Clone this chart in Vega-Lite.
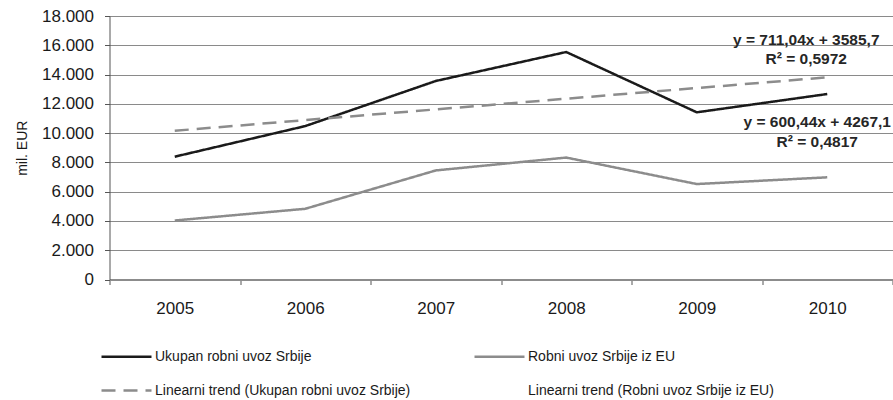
{
  "$schema": "https://vega.github.io/schema/vega-lite/v6.json",
  "width": 783,
  "height": 263.5,
  "autosize": "none",
  "padding": {"left": 109.5, "top": 16, "right": 0.5, "bottom": 120.5},
  "background": "white",
  "config": {
    "view": {"stroke": null},
    "font": "Liberation Sans",
    "text": {"font": "Liberation Sans"}
  },
  "encoding": {
    "x": {
      "field": "year",
      "type": "ordinal",
      "scale": {"type": "band", "paddingInner": 0, "paddingOuter": 0},
      "axis": {
        "title": null,
        "labelAngle": 0,
        "tickBand": "extent",
        "grid": false,
        "domainColor": "#8c8c8c",
        "domainWidth": 2,
        "tickColor": "#555555",
        "tickWidth": 1,
        "tickSize": 5,
        "labelPadding": 16,
        "labelFontSize": 17,
        "labelColor": "#1a1a1a",
        "labelFont": "Liberation Sans"
      }
    },
    "y": {
      "field": "value",
      "type": "quantitative",
      "scale": {"domain": [0, 18000], "nice": false},
      "axis": {
        "title": "mil. EUR",
        "titleFontSize": 14,
        "titleFontWeight": "normal",
        "titleColor": "#1a1a1a",
        "titleFont": "Liberation Sans",
        "titlePadding": 12,
        "values": [0, 2000, 4000, 6000, 8000, 10000, 12000, 14000, 16000, 18000],
        "labelExpr": "replace(format(datum.value, ','), ',', '.')",
        "labelOverlap": false,
        "labelBound": false,
        "labelFlush": false,
        "labelFontSize": 17,
        "labelColor": "#1a1a1a",
        "labelFont": "Liberation Sans",
        "labelPadding": 11,
        "tickSize": 5,
        "tickColor": "#555555",
        "domainColor": "#555555",
        "domainWidth": 1,
        "grid": true,
        "gridColor": "#8a8a8a",
        "gridWidth": 1
      }
    }
  },
  "layer": [
    {
      "data": {
        "values": [
          {"year": "2005", "series": "Ukupan robni uvoz Srbije", "value": 8390},
          {"year": "2006", "series": "Ukupan robni uvoz Srbije", "value": 10480},
          {"year": "2007", "series": "Ukupan robni uvoz Srbije", "value": 13560},
          {"year": "2008", "series": "Ukupan robni uvoz Srbije", "value": 15540},
          {"year": "2009", "series": "Ukupan robni uvoz Srbije", "value": 11420},
          {"year": "2010", "series": "Ukupan robni uvoz Srbije", "value": 12670},
          {"year": "2005", "series": "Robni uvoz Srbije iz EU", "value": 4030},
          {"year": "2006", "series": "Robni uvoz Srbije iz EU", "value": 4830},
          {"year": "2007", "series": "Robni uvoz Srbije iz EU", "value": 7450},
          {"year": "2008", "series": "Robni uvoz Srbije iz EU", "value": 8330},
          {"year": "2009", "series": "Robni uvoz Srbije iz EU", "value": 6520},
          {"year": "2010", "series": "Robni uvoz Srbije iz EU", "value": 6980},
          {"year": "2005", "series": "Linearni trend (Ukupan robni uvoz Srbije)", "value": 10160},
          {"year": "2006", "series": "Linearni trend (Ukupan robni uvoz Srbije)", "value": 10890},
          {"year": "2007", "series": "Linearni trend (Ukupan robni uvoz Srbije)", "value": 11620},
          {"year": "2008", "series": "Linearni trend (Ukupan robni uvoz Srbije)", "value": 12350},
          {"year": "2009", "series": "Linearni trend (Ukupan robni uvoz Srbije)", "value": 13080},
          {"year": "2010", "series": "Linearni trend (Ukupan robni uvoz Srbije)", "value": 13810}
        ]
      },
      "mark": {"type": "line", "strokeWidth": 2.5},
      "encoding": {
        "color": {
          "field": "series",
          "type": "nominal",
          "scale": {
            "domain": ["Ukupan robni uvoz Srbije", "Linearni trend (Ukupan robni uvoz Srbije)", "Robni uvoz Srbije iz EU", "Linearni trend (Robni uvoz Srbije iz EU)"],
            "range": ["#1a1a1a", "#8c8c8c", "#8c8c8c", "#ffffff"]
          },
          "legend": {
            "title": null,
            "orient": "none",
            "legendX": -9.5,
            "legendY": 314,
            "columns": 2,
            "symbolType": "stroke",
            "symbolSize": 2500,
            "symbolStrokeWidth": 2.5,
            "labelFont": "Liberation Sans",
            "labelFontSize": 14,
            "labelColor": "#1a1a1a",
            "labelOffset": 2,
            "labelLimit": 400,
            "columnPadding": 58,
            "rowPadding": 0,
            "padding": 0
          }
        },
        "strokeDash": {
          "field": "series",
          "type": "nominal",
          "scale": {
            "domain": ["Ukupan robni uvoz Srbije", "Linearni trend (Ukupan robni uvoz Srbije)", "Robni uvoz Srbije iz EU", "Linearni trend (Robni uvoz Srbije iz EU)"],
            "range": [[1, 0], [14, 8], [1, 0], [1, 0]]
          }
        }
      }
    },
    {
      "data": {
        "values": [
          {"year": "2010", "value": 16360, "label": "y = 711,04x + 3585,7"},
          {"year": "2010", "value": 15060, "label": "R² = 0,5972"}
        ]
      },
      "mark": {"type": "text", "fontSize": 15.5, "fontWeight": "bold", "color": "#262626", "dx": -21, "align": "center", "baseline": "middle"},
      "encoding": {
        "text": {"field": "label"}
      }
    },
    {
      "data": {
        "values": [
          {"year": "2010", "value": 10760, "label": "y = 600,44x + 4267,1"},
          {"year": "2010", "value": 9390, "label": "R² = 0,4817"}
        ]
      },
      "mark": {"type": "text", "fontSize": 15.5, "fontWeight": "bold", "color": "#262626", "dx": -10, "align": "center", "baseline": "middle"},
      "encoding": {
        "text": {"field": "label"}
      }
    }
  ]
}
